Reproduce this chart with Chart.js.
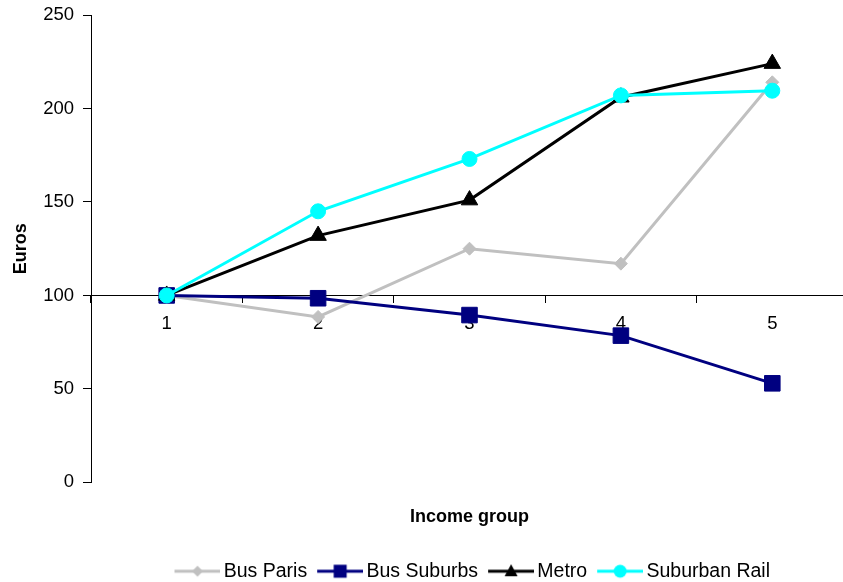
<!DOCTYPE html>
<html>
<head>
<meta charset="utf-8">
<script src="https://cdn.jsdelivr.net/npm/chart.js@4/dist/chart.umd.min.js"></script>
<style>
  html, body { margin: 0; padding: 0; background: #fff; overflow: hidden; }
  #wrap { width: 860px; height: 591px; }
</style>
</head>
<body>
<div id="wrap"><canvas id="c" width="860" height="591"></canvas></div>
<script>
// ---- data ----
const categories = ['1', '2', '3', '4', '5'];
const busParis = [100, 88.5, 125, 117, 214];
const busSuburbs = [100, 98.5, 89.5, 78.5, 53];
const metro = [100, 132, 151, 206, 224];
const suburbanRail = [100, 145, 173, 207, 209.5];
const yTicks = [0, 50, 100, 150, 200, 250];
const seriesNames = ['Bus Paris', 'Bus Suburbs', 'Metro', 'Suburban Rail'];

const FONT = "'Liberation Sans', Arial, Helvetica, sans-serif";
Chart.defaults.font.family = FONT;
Chart.defaults.color = '#000';

const colors = ['#C0C0C0', '#000080', '#000000', '#00FFFF'];
const shapes = ['diamond', 'square', 'triangle', 'circle'];

function makeIcon(color, shape) {
  const c = document.createElement('canvas');
  c.width = 58; c.height = 20;
  const g = c.getContext('2d');
  g.strokeStyle = color; g.lineWidth = 3;
  g.beginPath(); g.moveTo(12, 10); g.lineTo(58, 10); g.stroke();
  g.fillStyle = color;
  const cx = 35, cy = 10;
  g.beginPath();
  if (shape === 'diamond') {
    g.moveTo(cx, cy - 5.5); g.lineTo(cx + 5.5, cy); g.lineTo(cx, cy + 5.5); g.lineTo(cx - 5.5, cy); g.closePath();
  } else if (shape === 'square') {
    g.rect(cx - 6.5, cy - 6.5, 13, 13);
  } else if (shape === 'triangle') {
    g.moveTo(cx, cy - 7); g.lineTo(cx + 6.5, cy + 5); g.lineTo(cx - 6.5, cy + 5); g.closePath();
  } else {
    g.arc(cx, cy, 6.5, 0, Math.PI * 2);
  }
  g.fill();
  return c;
}
const icons = colors.map((col, i) => makeIcon(col, shapes[i]));

const ds = (label, data, color, style, radius, order) => ({
  label, data,
  borderColor: color, backgroundColor: color,
  borderWidth: 3, tension: 0,
  pointStyle: style, pointRadius: radius, pointBorderWidth: 1,
  pointBorderColor: color, pointBackgroundColor: color,
  order, clip: false
});

new Chart(document.getElementById('c'), {
  type: 'line',
  data: {
    labels: categories,
    datasets: [
      ds(seriesNames[0], busParis, colors[0], 'rectRot', 6.5, 4),
      ds(seriesNames[1], busSuburbs, colors[1], 'rect', 11, 3),
      ds(seriesNames[2], metro, colors[2], 'triangle', 9.5, 2),
      ds(seriesNames[3], suburbanRail, colors[3], 'circle', 7.5, 1)
    ]
  },
  options: {
    responsive: false,
    animation: false,
    events: [],
    layout: { padding: { left: 0, right: 11, top: 15, bottom: 0 } },
    scales: {
      x: {
        type: 'category',
        position: { y: 100 },
        offset: true,
        grid: { offset: true, drawOnChartArea: false, drawTicks: true, tickLength: 7, color: '#000', lineWidth: 1 },
        border: { display: true, color: '#000', width: 1 },
        ticks: { font: { size: 18.5 }, color: '#000', padding: 10.5, maxRotation: 0 }
      },
      x2: {
        type: 'linear',
        position: 'bottom',
        grid: { display: false, drawTicks: false },
        border: { display: false },
        ticks: { display: false },
        title: { display: true, text: 'Income group', font: { size: 18, weight: 'bold' }, color: '#000', padding: { top: 24, bottom: 29 } }
      },
      y: {
        min: 0, max: 250,
        afterFit: s => { s.width = 91; s.paddingTop = 0; s.paddingBottom = 0; },
        afterBuildTicks: s => { s.ticks = yTicks.map(v => ({ value: v })); },
        grid: { drawOnChartArea: false, drawTicks: true, tickLength: 8, color: '#000', lineWidth: 1 },
        border: { display: true, color: '#000', width: 1 },
        ticks: { font: { size: 18.5 }, color: '#000', padding: 9 },
        title: { display: true, text: 'Euros', font: { size: 18, weight: 'bold' }, color: '#000', padding: { top: 10, bottom: 0 } }
      }
    },
    plugins: {
      tooltip: { enabled: false },
      title: { display: false },
      legend: {
        display: true,
        position: 'bottom',
        fullSize: false,
        labels: {
          usePointStyle: true,
          pointStyleWidth: 45,
          padding: 4.5,
          font: { size: 19.5 },
          color: '#000',
          generateLabels: chart => chart.data.datasets.map((d, i) => ({
            text: d.label,
            pointStyle: icons[i],
            fillStyle: 'rgba(0,0,0,0)',
            strokeStyle: 'rgba(0,0,0,0)',
            lineWidth: 0,
            hidden: false,
            datasetIndex: i,
            fontColor: '#000'
          }))
        }
      }
    }
  }
});
</script>
</body>
</html>
